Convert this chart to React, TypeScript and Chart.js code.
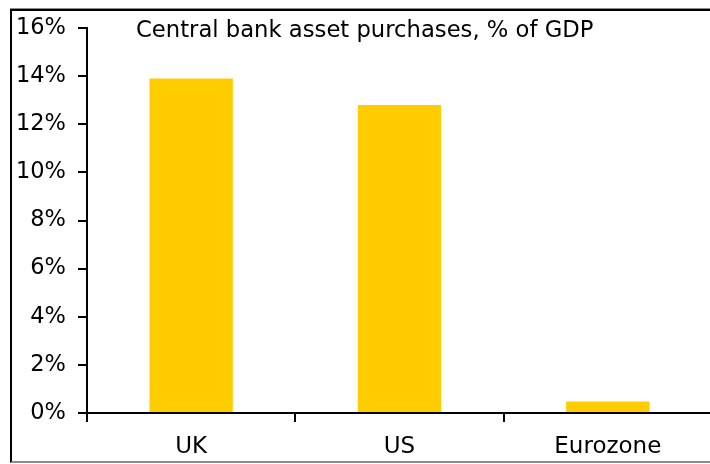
import React, { useEffect, useRef } from "react";
import { Chart, registerables } from "chart.js";

Chart.register(...registerables);

const categories = ["UK", "US", "Eurozone"];
const purchasesPctGdp = [13.9, 12.8, 0.48];
const yTickValues = [0, 2, 4, 6, 8, 10, 12, 14, 16];
const chartTitle = "Central bank asset purchases, % of GDP";

const FONT = '"DejaVu Sans", Verdana, sans-serif';

const innerTitle = {
  id: "innerTitle",
  afterDraw(chart: any) {
    const ctx = chart.ctx;
    ctx.save();
    ctx.font = `22.7px ${FONT}`;
    ctx.fillStyle = "#000";
    ctx.textAlign = "left";
    ctx.textBaseline = "alphabetic";
    ctx.fillText(chartTitle, 136, 37);
    ctx.restore();
  },
};

export default function App() {
  const ref = useRef<HTMLCanvasElement | null>(null);

  useEffect(() => {
    if (!ref.current) return;
    const chart = new Chart(ref.current, {
      type: "bar",
      data: {
        labels: categories,
        datasets: [
          {
            data: purchasesPctGdp,
            backgroundColor: "#FFCC00",
            borderWidth: 0,
            categoryPercentage: 1,
            barPercentage: 0.4,
          },
        ],
      },
      options: {
        responsive: false,
        animation: false,
        devicePixelRatio: 1,
        layout: { padding: { top: 28, right: 18, left: 0, bottom: 0 } },
        plugins: {
          legend: { display: false },
          title: { display: false },
          tooltip: { enabled: false },
        },
        scales: {
          x: {
            offset: true,
            grid: {
              display: true,
              offset: true,
              drawOnChartArea: false,
              drawTicks: true,
              tickLength: 9,
              color: "#000",
              lineWidth: 2,
            },
            border: { display: true, color: "#000", width: 2 },
            ticks: {
              color: "#000",
              font: { family: FONT, size: 23 },
              padding: 11,
              maxRotation: 0,
            },
            afterFit(scale: any) {
              scale.height = 51;
            },
          },
          y: {
            min: 0,
            max: 16,
            afterBuildTicks(scale: any) {
              scale.ticks = yTickValues.map((v) => ({ value: v }));
            },
            grid: {
              display: true,
              drawOnChartArea: false,
              drawTicks: true,
              tickLength: 9,
              color: "#000",
              lineWidth: 2,
            },
            border: { display: true, color: "#000", width: 2 },
            ticks: {
              color: "#000",
              font: { family: FONT, size: 22.5 },
              padding: 12,
              callback: (v: any) => `${v}%`,
            },
            afterFit(scale: any) {
              scale.width = 87;
            },
          },
        },
      },
      plugins: [innerTitle],
    });
    return () => chart.destroy();
  }, []);

  return (
    <div
      style={{
        position: "fixed",
        left: 0,
        top: 0,
        width: 710,
        height: 464,
        overflow: "hidden",
        background: "#fff",
      }}
    >
      <canvas
        ref={ref}
        width={730}
        height={464}
        style={{ position: "absolute", left: 0, top: 0, display: "block" }}
      />
      <div
        style={{
          position: "absolute",
          left: 10,
          top: 9,
          width: 800,
          height: 450,
          borderLeft: "2px solid #000",
          borderTop: "2px solid #000",
          borderBottom: "2px solid #8c8c8c",
          boxShadow: "0 -1px 0 #8c8c8c",
          pointerEvents: "none",
        }}
      />
    </div>
  );
}
